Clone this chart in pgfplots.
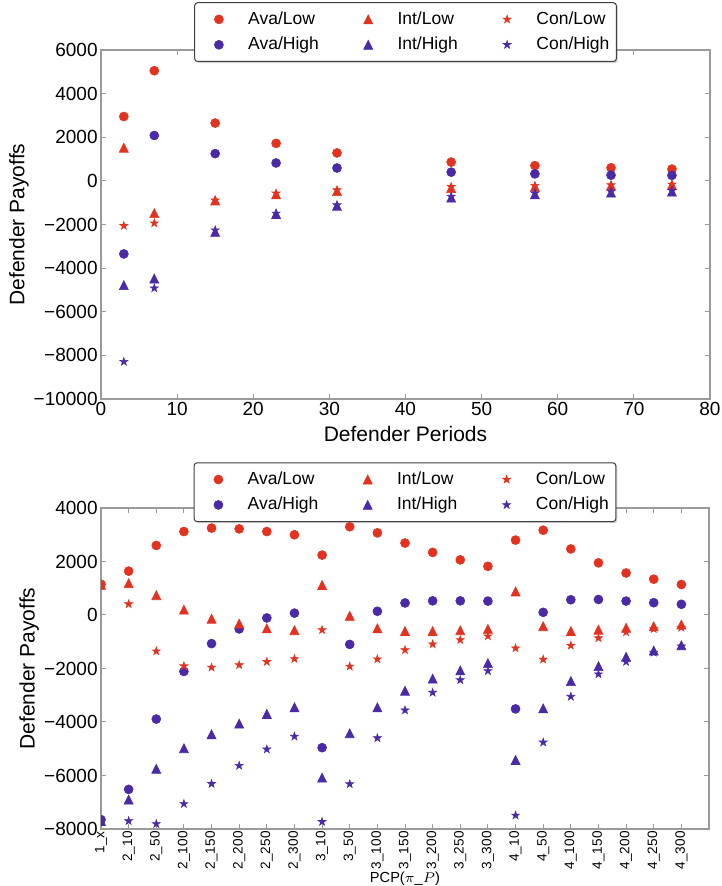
\documentclass[border=0pt]{standalone}
\usepackage{fontspec}
\setmainfont{Liberation Sans}
\usepackage{pgfplots}
\usepackage{pgfplotstable}
\pgfplotsset{compat=1.18}
\usetikzlibrary{shadows}

\definecolor{mred}{HTML}{E3321F}
\definecolor{mblue}{HTML}{4A2AA6}
\definecolor{framegray}{HTML}{9A9A9A}

% matplotlib-like filled triangle and star
\pgfdeclareplotmark{mtri}{%
  \pgfpathmoveto{\pgfpoint{0pt}{\pgfplotmarksize}}%
  \pgfpathlineto{\pgfpoint{-\pgfplotmarksize}{-\pgfplotmarksize}}%
  \pgfpathlineto{\pgfpoint{\pgfplotmarksize}{-\pgfplotmarksize}}%
  \pgfpathclose
  \pgfusepathqfillstroke}
\pgfdeclareplotmark{mstar}{%
  \pgfpathmoveto{\pgfpointpolar{90}{\pgfplotmarksize}}%
  \pgfpathlineto{\pgfpointpolar{126}{0.382\pgfplotmarksize}}%
  \pgfpathlineto{\pgfpointpolar{162}{\pgfplotmarksize}}%
  \pgfpathlineto{\pgfpointpolar{198}{0.382\pgfplotmarksize}}%
  \pgfpathlineto{\pgfpointpolar{234}{\pgfplotmarksize}}%
  \pgfpathlineto{\pgfpointpolar{270}{0.382\pgfplotmarksize}}%
  \pgfpathlineto{\pgfpointpolar{306}{\pgfplotmarksize}}%
  \pgfpathlineto{\pgfpointpolar{342}{0.382\pgfplotmarksize}}%
  \pgfpathlineto{\pgfpointpolar{18}{\pgfplotmarksize}}%
  \pgfpathlineto{\pgfpointpolar{54}{0.382\pgfplotmarksize}}%
  \pgfpathclose
  \pgfusepathqfillstroke}

% defender periods
\pgfplotstableread{
x  avalow avahigh intlow inthigh conlow conhigh
3   2950  -3350   1520  -4780  -2060  -8290
7   5050   2080  -1480  -4480  -1940  -4920
15  2650   1250   -900  -2340   -890  -2260
23  1720    820   -620  -1520   -570  -1490
31  1280    590   -470  -1140   -420  -1110
46   860    400   -330   -770   -270   -720
57   700    320   -270   -620   -220   -570
67   600    260   -220   -540   -190   -490
75   540    250   -190   -490   -160   -450
}\periods

% PCP categories 0..21
\pgfplotstableread{
x  avalow avahigh intlow inthigh conlow conhigh
0   1150  -7650   1130  -7700   1100  -7700
1   1640  -6520   1190  -6900    410  -7700
2   2600  -3890    740  -5750  -1350  -7810
3   3120  -2110    200  -4980  -1910  -7060
4   3250  -1070   -140  -4460  -1960  -6310
5   3220   -520   -320  -4060  -1870  -5630
6   3120   -110   -500  -3700  -1750  -5020
7   3000     70   -570  -3450  -1640  -4540
8   2240  -4960   1120  -6080   -560  -7730
9   3300  -1100    -30  -4420  -1920  -6320
10  3070    140   -500  -3450  -1650  -4600
11  2690    450   -600  -2830  -1310  -3560
12  2340    530   -600  -2380  -1090  -2900
13  2060    530   -570  -2070   -930  -2430
14  1820    520   -520  -1800   -790  -2090
15  2800  -3510    880  -5420  -1240  -7490
16  3170    100   -420  -3490  -1660  -4760
17  2470    570   -600  -2470  -1140  -3050
18  1950    580   -550  -1910   -860  -2210
19  1570    520   -480  -1560   -640  -1750
20  1340    460   -420  -1330   -520  -1400
21  1140    400   -360  -1130   -470  -1170
}\pcp

\pgfplotsset{
  payoff/.style={
    scale only axis,
    scaled ticks=false,
    axis line style={framegray, line width=0.6pt},
    tick style={framegray, line width=0.5pt},
    major tick length=2.5pt,
    tick align=inside,
    clip marker paths=true,
    ticklabel style={font=\fontsize{9.5}{11}\selectfont, black, inner sep=1.5pt},
    ylabel={Defender Payoffs},
    label style={font=\fontsize{10.5}{12}\selectfont, black},
    legend columns=3,
    legend cell align=left,
    legend image code/.code={%
      \path (0pt,0pt) (23pt,0pt);
      \draw[mark repeat=2,mark phase=2,##1] plot coordinates {(0pt,0pt) (11.5pt,0pt) (23pt,0pt)};},
    legend style={draw=black!75, line width=0.5pt, fill=white, rounded corners=1.5pt,
      drop shadow={shadow xshift=0.8pt, shadow yshift=-0.8pt, opacity=0.35},
      inner xsep=0.5pt, inner ysep=2pt, font=\fontsize{8.75}{10.5}\selectfont,
      nodes={text height=0.72em, text depth=0.22em, inner ysep=1.65pt, inner xsep=3pt},
      /tikz/every even column/.append style={column sep=10pt}},
  },
  avalow/.style={only marks, mark=*, mark size=2.25pt, color=mred, line width=0.3pt},
  avahigh/.style={only marks, mark=*, mark size=2.25pt, color=mblue, line width=0.3pt},
  intlow/.style={only marks, mark=mtri, mark size=2.25pt, color=mred, line width=0.3pt},
  inthigh/.style={only marks, mark=mtri, mark size=2.25pt, color=mblue, line width=0.3pt},
  conlow/.style={only marks, mark=mstar, mark size=2.1pt, color=mred, line width=0.3pt},
  conhigh/.style={only marks, mark=mstar, mark size=2.1pt, color=mblue, line width=0.3pt},
}
\newcommand\sixlegend{%
  \addlegendimage{avalow}\addlegendentry{Ava/Low}
  \addlegendimage{intlow}\addlegendentry{Int/Low}
  \addlegendimage{conlow}\addlegendentry{Con/Low}
  \addlegendimage{avahigh}\addlegendentry{Ava/High}
  \addlegendimage{inthigh}\addlegendentry{Int/High}
  \addlegendimage{conhigh}\addlegendentry{Con/High}}

\begin{document}
\begin{tikzpicture}
\begin{axis}[payoff,
  at={(0,0)}, anchor=north west,
  width=304.5pt, height=174.5pt,
  xmin=0, xmax=80, ymin=-10000, ymax=6000,
  xtick={0,10,...,80},
  xticklabels={0,10,20,30,40,50,60,70,80},
  ytick={-10000,-8000,...,6000},
  yticklabels={−10000,−8000,−6000,−4000,−2000,0,2000,4000,6000},
  xlabel={Defender Periods},
  ylabel style={at={(axis description cs:-0.1346,0.5)}, anchor=center},
  legend style={at={(0.5,0.9656)}, anchor=south},
]
\addplot[avalow, forget plot] table[x=x, y=avalow] {\periods};
\addplot[avahigh, forget plot] table[x=x, y=avahigh] {\periods};
\addplot[intlow, forget plot] table[x=x, y=intlow] {\periods};
\addplot[inthigh, forget plot] table[x=x, y=inthigh] {\periods};
\addplot[conlow, forget plot] table[x=x, y=conlow] {\periods};
\addplot[conhigh, forget plot] table[x=x, y=conhigh] {\periods};
\sixlegend
\end{axis}

\begin{axis}[payoff,
  at={(0,-229pt)}, anchor=north west,
  width=304pt, height=160.5pt,
  xmin=0, xmax=22, ymin=-8000, ymax=4000,
  xtick={0,...,21},
  xticklabels={1\_x,2\_10,2\_50,2\_100,2\_150,2\_200,2\_250,2\_300,3\_10,3\_50,3\_100,3\_150,3\_200,3\_250,3\_300,4\_10,4\_50,4\_100,4\_150,4\_200,4\_250,4\_300},
  xticklabel style={rotate=90, anchor=east, font=\fontsize{6.8}{8}\selectfont, inner sep=1pt},
  ytick={-8000,-6000,...,4000},
  yticklabels={−8000,−6000,−4000,−2000,0,2000,4000},
  xlabel={PCP($\pi$\_$P$)},
  xlabel style={font=\fontsize{7.3}{8.5}\selectfont, inner sep=1pt, yshift=1pt},
  ylabel style={at={(axis description cs:-0.118,0.5)}, anchor=center},
  legend style={at={(0.5,0.956)}, anchor=south},
]
\addplot[avalow, forget plot] table[x=x, y=avalow] {\pcp};
\addplot[avahigh, forget plot] table[x=x, y=avahigh] {\pcp};
\addplot[intlow, forget plot] table[x=x, y=intlow] {\pcp};
\addplot[inthigh, forget plot] table[x=x, y=inthigh] {\pcp};
\addplot[conlow, forget plot] table[x=x, y=conlow] {\pcp};
\addplot[conhigh, forget plot] table[x=x, y=conhigh] {\pcp};
\sixlegend
\end{axis}
\pgfresetboundingbox
\path[use as bounding box] (-50.5pt,25pt) rectangle (310pt,-418pt);
\end{tikzpicture}
\end{document}
